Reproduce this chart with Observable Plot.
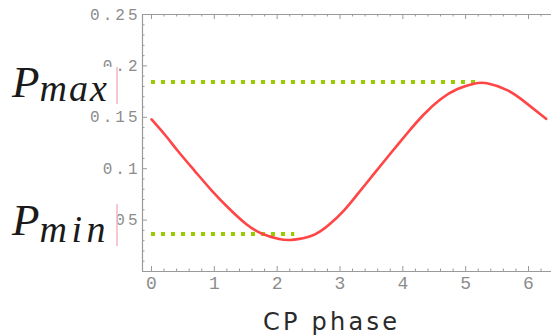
<!DOCTYPE html>
<html><head><meta charset="utf-8">
<script src="https://cdn.jsdelivr.net/npm/d3@7"></script>
<script src="https://cdn.jsdelivr.net/npm/@observablehq/plot@0.6"></script>
<style>html,body{margin:0;padding:0;background:#fff} svg{display:block}</style>
</head><body><div id="chart"></div>
<script>
// ---- data ----
const phase = [0, 0.22, 0.43, 0.70, 0.97, 1.23, 1.50, 1.76, 2.03, 2.24, 2.56, 2.82, 3.05, 3.27, 3.54, 3.80, 4.07, 4.33, 4.60, 4.87, 5.13, 5.34, 5.66, 5.93, 6.28];
const prob  = [0.148, 0.1325, 0.1165, 0.097, 0.078, 0.0615, 0.0465, 0.0367, 0.0316, 0.0308, 0.0350, 0.0452, 0.0585, 0.0745, 0.095, 0.1145, 0.1345, 0.1525, 0.1675, 0.1775, 0.1826, 0.1832, 0.1765, 0.1655, 0.1485];

const levelNames  = ["max", "min"];
const levelValues = [0.1843, 0.0365];
const levelStarts = [0, 0];
const levelEnds   = [5.17, 2.28];

const xMajorTicks = [0, 1, 2, 3, 4, 5, 6];
const xTickLabels = ["0", "1", "2", "3", "4", "5", "6"];
const yMajorTicks = [0.05, 0.1, 0.15, 0.2, 0.25];
const yTickLabels = ["0.05", "0.1", "0.15", "0.2", "0.25"];
const xDomain = [-0.143, 6.366];
const yDomain = [0, 0.25];
const xLabel = "CP phase";

// ---- layout ----
const W = 551, H = 335;
const mTop = 14, mRight = 0, mBottom = 64, mLeft = 142;
const plotW = W - mLeft - mRight, plotH = H - mTop - mBottom;
const frameColor = "#9a9a9a", tickLabelColor = "#8c8c8c";

const xMinorTicks = d3.range(0, 6.41, 0.2).filter(v => Math.abs(v - Math.round(v)) > 1e-6);
const yMinorTicks = d3.range(0.01, 0.25, 0.01).filter(v => Math.abs(v / 0.05 - Math.round(v / 0.05)) > 1e-6);

const curve = phase.map((p, i) => ({phase: p, P: prob[i]}));
const levels = levelNames.map((n, i) => ({name: n, value: levelValues[i], start: levelStarts[i], end: levelEnds[i]}));

// label layout (pixels, annotation only)
const labelLayout = [
  {baseline: 97, subDy: 3.5, boxTop: 67, boxBottom: 104, spacing: 2},
  {baseline: 235, subDy: 6.5, boxTop: 204, boxBottom: 246, spacing: 4.5}
];

function levelLabels(index, scales, values, dims) {
  const g = d3.create("svg:g");
  levels.forEach((d, i) => {
    const L = labelLayout[i];
    g.append("rect").attr("x", 0).attr("y", L.boxTop).attr("width", 117).attr("height", L.boxBottom - L.boxTop).attr("fill", "white");
    const t = g.append("text").attr("x", 12).attr("y", L.baseline).attr("text-anchor", "start")
      .attr("font-family", "'Liberation Serif', serif").attr("font-style", "italic").attr("fill", "#1a1a1a");
    t.append("tspan").attr("font-size", 45).text("P");
    t.append("tspan").attr("font-size", 38).attr("dy", L.subDy).attr("dx", 0)
      .attr("letter-spacing", L.spacing).text(d.name);
    g.append("line").attr("x1", 117).attr("x2", 117).attr("y1", L.boxTop).attr("y2", L.boxBottom)
      .attr("stroke", "#f4b6bf").attr("stroke-width", 1.5);
  });
  return g.node();
}

const chart = Plot.plot({
  width: W, height: H,
  marginTop: mTop, marginRight: mRight, marginBottom: mBottom, marginLeft: mLeft,
  x: {domain: xDomain},
  y: {domain: yDomain},
  style: {background: "white", overflow: "visible"},
  marks: [
    // frame (left, top, bottom)
    Plot.ruleX([xDomain[0]], {stroke: frameColor, strokeWidth: 1.2}),
    Plot.ruleY([yDomain[0], yDomain[1]], {stroke: frameColor, strokeWidth: 1.2}),
    // inward ticks bottom/top
    Plot.ruleX(xMajorTicks, {stroke: frameColor, insetTop: plotH - 5}),
    Plot.ruleX(xMinorTicks, {stroke: frameColor, insetTop: plotH - 2.5}),
    Plot.ruleX(xMajorTicks, {stroke: frameColor, insetBottom: plotH - 5}),
    Plot.ruleX(xMinorTicks, {stroke: frameColor, insetBottom: plotH - 2.5}),
    // inward ticks left
    Plot.ruleY(yMajorTicks, {stroke: frameColor, insetRight: plotW - 5}),
    Plot.ruleY(yMinorTicks, {stroke: frameColor, insetRight: plotW - 2.5}),
    // tick labels
    Plot.axisX(xMajorTicks, {tickSize: 0, tickPadding: 5, tickFormat: d => xTickLabels[xMajorTicks.indexOf(d)],
      fontFamily: "'Liberation Mono', monospace", fontSize: 18, fill: tickLabelColor, label: null}),
    Plot.axisY(yMajorTicks, {tickSize: 0, tickPadding: 2, tickFormat: d => yTickLabels[yMajorTicks.indexOf(d)],
      fontFamily: "'Liberation Mono', monospace", fontSize: 16, fill: tickLabelColor, label: null}),
    // level lines
    Plot.ruleY(levels, {y: "value", x1: "start", x2: "end", stroke: "#99cc00", strokeWidth: 4, strokeDasharray: "4,6"}),
    // curve
    Plot.line(curve, {x: "phase", y: "P", stroke: "#ff4545", strokeWidth: 2.6, curve: "natural"}),
    // axis title
    Plot.text([xLabel], {frameAnchor: "bottom", dy: 51, dx: -17, lineAnchor: "middle",
      fontFamily: "'DejaVu Sans', sans-serif", fontSize: 24, fill: "#2a2a2a", text: d => d}),
    // P labels
    levelLabels
  ]
});

const svg = d3.select(chart);
svg.selectAll("[aria-label='y-axis tick label'] text").attr("letter-spacing", 3);
svg.selectAll("[aria-label='text'] text").attr("textLength", 134).attr("lengthAdjust", "spacing");
document.getElementById("chart").appendChild(chart);
</script>
</body></html>
